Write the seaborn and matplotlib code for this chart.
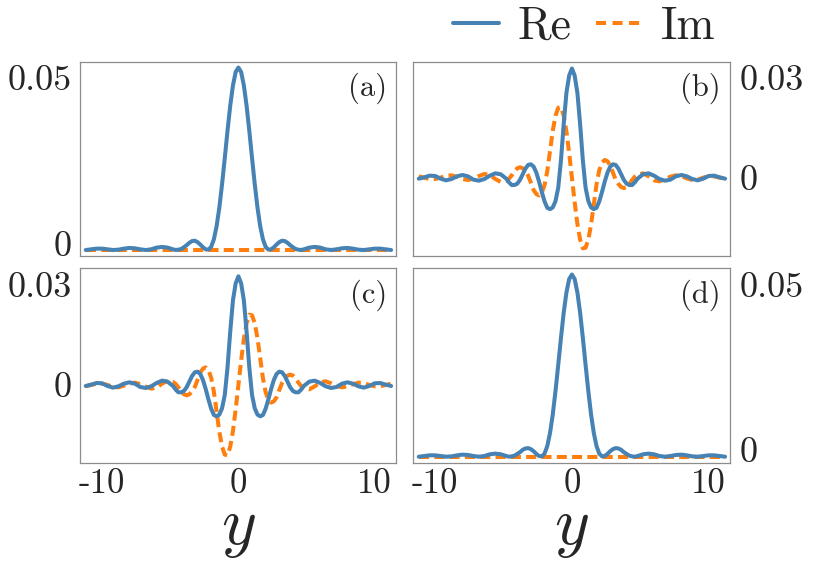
import numpy as np
import pandas as pd
import matplotlib
matplotlib.use("Agg")
import matplotlib.pyplot as plt
import seaborn as sns
from matplotlib.lines import Line2D
from matplotlib.transforms import ScaledTranslation

# sample positions along y
Y = [-11.2, -10.8, -10.4, -10.0, -9.6, -9.2, -8.8, -8.4, -8.0, -7.6, -7.2, -6.8, -6.4, -6.0, -5.6, -5.2,
     -4.8, -4.6, -4.4, -4.2, -4.0, -3.8, -3.6, -3.4, -3.2, -3.0, -2.8, -2.6, -2.4, -2.2, -2.0, -1.8,
     -1.6, -1.4, -1.2, -1.0, -0.8, -0.6, -0.4, -0.2, 0.0, 0.2, 0.4, 0.6, 0.8, 1.0, 1.2, 1.4, 1.6, 1.8,
     2.0, 2.2, 2.4, 2.6, 2.8, 3.0, 3.2, 3.4, 3.6, 3.8, 4.0, 4.2, 4.4, 4.6, 4.8,
     5.2, 5.6, 6.0, 6.4, 6.8, 7.2, 7.6, 8.0, 8.4, 8.8, 9.2, 9.6, 10.0, 10.4, 10.8, 11.2]

re_a = [0.0000, 0.0002, 0.0004, 0.0004, 0.0002, 0.0000, 0.0001, 0.0004, 0.0006, 0.0005, 0.0002, 0.0000,
        0.0002, 0.0007, 0.0009, 0.0007, 0.0002, 0.0000, 0.0001, 0.0003, 0.0008, 0.0014, 0.0021, 0.0026,
        0.0027, 0.0023, 0.0016, 0.0008, 0.0002, 0.0001, 0.0009, 0.0031, 0.0069, 0.0123, 0.0191, 0.0267,
        0.0346, 0.0419, 0.0478, 0.0517, 0.0530,
        0.0517, 0.0478, 0.0419, 0.0346, 0.0267, 0.0191, 0.0123, 0.0069, 0.0031, 0.0009, 0.0001, 0.0002,
        0.0008, 0.0016, 0.0023, 0.0027, 0.0026, 0.0021, 0.0014, 0.0008, 0.0003, 0.0001, 0.0000, 0.0002,
        0.0007, 0.0009, 0.0007, 0.0002, 0.0000, 0.0002, 0.0005, 0.0006, 0.0004, 0.0001, 0.0000, 0.0002,
        0.0004, 0.0004, 0.0002, 0.0000]
im_a = [0.0] * 81

re_b = [-0.0003, 0.0001, 0.0006, 0.0005, -0.0003, -0.0008, -0.0004, 0.0004, 0.0008, 0.0004, -0.0006,
        -0.0009, -0.0004, 0.0006, 0.0013, 0.0010, -0.0003, -0.0014, -0.0022, -0.0022, -0.0018, -0.0007,
        0.0010, 0.0027, 0.0038, 0.0040, 0.0033, 0.0015, -0.0012, -0.0043, -0.0071, -0.0090, -0.0094,
        -0.0089, -0.0070, -0.0030, 0.0052, 0.0160, 0.0254, 0.0305, 0.0326,
        0.0305, 0.0254, 0.0160, 0.0052, -0.0030, -0.0070, -0.0089, -0.0094, -0.0090, -0.0071, -0.0043,
        -0.0012, 0.0015, 0.0033, 0.0040, 0.0038, 0.0027, 0.0010, -0.0007, -0.0018, -0.0022, -0.0022,
        -0.0014, -0.0003, 0.0010, 0.0013, 0.0006, -0.0004, -0.0009, -0.0006, 0.0004, 0.0008, 0.0004,
        -0.0004, -0.0008, -0.0003, 0.0005, 0.0006, 0.0001, -0.0003]
im_b = [0.0004, 0.0000, -0.0004, -0.0004, 0.0000, 0.0006, 0.0007, 0.0002, -0.0004, -0.0007, -0.0003,
        0.0005, 0.0011, 0.0008, -0.0004, -0.0013, -0.0009, -0.0003, 0.0007, 0.0019, 0.0028, 0.0031,
        0.0028, 0.0019, 0.0006, -0.0015, -0.0037, -0.0049, -0.0053, -0.0045, -0.0022, 0.0020, 0.0080,
        0.0140, 0.0185, 0.0209, 0.0211, 0.0185, 0.0138, 0.0073, 0.0000,
        -0.0073, -0.0138, -0.0185, -0.0211, -0.0209, -0.0185, -0.0140, -0.0080, -0.0020, 0.0022, 0.0045,
        0.0053, 0.0049, 0.0037, 0.0015, -0.0006, -0.0019, -0.0028, -0.0031, -0.0028, -0.0019, -0.0007,
        0.0003, 0.0009, 0.0013, 0.0004, -0.0008, -0.0011, -0.0005, 0.0003, 0.0007, 0.0004, -0.0002,
        -0.0007, -0.0006, 0.0000, 0.0004, 0.0004, 0.0000, -0.0004]

re_c = [-0.0003, 0.0001, 0.0006, 0.0005, -0.0003, -0.0008, -0.0004, 0.0004, 0.0008, 0.0004, -0.0006,
        -0.0009, -0.0004, 0.0006, 0.0013, 0.0010, -0.0003, -0.0014, -0.0022, -0.0022, -0.0018, -0.0007,
        0.0010, 0.0027, 0.0038, 0.0040, 0.0033, 0.0015, -0.0012, -0.0043, -0.0071, -0.0090, -0.0094,
        -0.0089, -0.0070, -0.0030, 0.0052, 0.0160, 0.0254, 0.0305, 0.0326,
        0.0305, 0.0254, 0.0160, 0.0052, -0.0030, -0.0070, -0.0089, -0.0094, -0.0090, -0.0071, -0.0043,
        -0.0012, 0.0015, 0.0033, 0.0040, 0.0038, 0.0027, 0.0010, -0.0007, -0.0018, -0.0022, -0.0022,
        -0.0014, -0.0003, 0.0010, 0.0013, 0.0006, -0.0004, -0.0009, -0.0006, 0.0004, 0.0008, 0.0004,
        -0.0004, -0.0008, -0.0003, 0.0005, 0.0006, 0.0001, -0.0003]
im_c = [-0.0004, 0.0000, 0.0004, 0.0004, 0.0000, -0.0006, -0.0007, -0.0002, 0.0004, 0.0007, 0.0003,
        -0.0005, -0.0011, -0.0008, 0.0004, 0.0013, 0.0009, 0.0003, -0.0007, -0.0019, -0.0028, -0.0031,
        -0.0028, -0.0019, -0.0006, 0.0015, 0.0037, 0.0049, 0.0053, 0.0045, 0.0022, -0.0020, -0.0080,
        -0.0140, -0.0185, -0.0209, -0.0211, -0.0185, -0.0138, -0.0073, 0.0000,
        0.0073, 0.0138, 0.0185, 0.0211, 0.0209, 0.0185, 0.0140, 0.0080, 0.0020, -0.0022, -0.0045,
        -0.0053, -0.0049, -0.0037, -0.0015, 0.0006, 0.0019, 0.0028, 0.0031, 0.0028, 0.0019, 0.0007,
        -0.0003, -0.0009, -0.0013, -0.0004, 0.0008, 0.0011, 0.0005, -0.0003, -0.0007, -0.0004, 0.0002,
        0.0007, 0.0006, 0.0000, -0.0004, -0.0004, 0.0000, 0.0004]

re_d = [0.0000, 0.0002, 0.0004, 0.0004, 0.0002, 0.0000, 0.0001, 0.0004, 0.0006, 0.0005, 0.0002, 0.0000,
        0.0002, 0.0007, 0.0009, 0.0007, 0.0002, 0.0000, 0.0001, 0.0003, 0.0008, 0.0013, 0.0020, 0.0024,
        0.0025, 0.0022, 0.0016, 0.0008, 0.0002, 0.0001, 0.0009, 0.0031, 0.0069, 0.0123, 0.0191, 0.0267,
        0.0346, 0.0419, 0.0478, 0.0517, 0.0530,
        0.0517, 0.0478, 0.0419, 0.0346, 0.0267, 0.0191, 0.0123, 0.0069, 0.0031, 0.0009, 0.0001, 0.0002,
        0.0008, 0.0016, 0.0022, 0.0025, 0.0024, 0.0020, 0.0013, 0.0008, 0.0003, 0.0001, 0.0000, 0.0002,
        0.0007, 0.0009, 0.0007, 0.0002, 0.0000, 0.0002, 0.0005, 0.0006, 0.0004, 0.0001, 0.0000, 0.0002,
        0.0004, 0.0004, 0.0002, 0.0000]
im_d = [0.0] * 81

panel_letters = ["(a)", "(b)", "(c)", "(d)"]
x_ticks = [-10, 0, 10]
x_ticklabels = ["-10", "0", "10"]
y_ticks = {"a": [0, 0.05], "b": [0, 0.03], "c": [0, 0.03], "d": [0, 0.05]}
y_ticklabels = {"a": ["0", "0.05"], "b": ["0", "0.03"], "c": ["0", "0.03"], "d": ["0", "0.05"]}
legend_labels = ["Re", "Im"]

BLUE = "#4682B4"
ORANGE = "#FF7F0E"
FRAME = "#8c8c8c"

sns.set_theme(style="white")
plt.rcParams.update({
    "font.family": "serif",
    "font.serif": ["cmr10"],
    "mathtext.fontset": "cm",
    "axes.unicode_minus": False,
    "axes.formatter.use_mathtext": True,
})

fig = plt.figure(figsize=(8.3, 5.73), dpi=100)
W, H = 830.0, 573.0

def box(l, r, t, b):
    return [l / W, 1 - b / H, (r - l) / W, (b - t) / H]

layout = {
    "a": (box(80, 396, 61.5, 256), (-0.00174, 0.05475), "left", True),
    "b": (box(413, 730, 61.5, 256), (-0.0234, 0.0347), "right", True),
    "c": (box(80, 396, 268, 463.3), (-0.0235, 0.0351), "left", False),
    "d": (box(413, 730, 268, 463.3), (-0.00192, 0.0549), "right", False),
}
series = {"a": (re_a, im_a), "b": (re_b, im_b), "c": (re_c, im_c), "d": (re_d, im_d)}
zero_shift = {"a": 6, "b": 0, "c": 0, "d": 7.5}

dash = (0, (2.5, 1.3))
for key, letter in zip(["a", "b", "c", "d"], panel_letters):
    rect, ylim, side, top = layout[key]
    ax = fig.add_axes(rect)
    re_v, im_v = series[key]
    df = pd.DataFrame({"y": Y, "Re": re_v, "Im": im_v})
    sns.lineplot(data=df, x="y", y="Im", ax=ax, color=ORANGE, lw=2.9,
                 linestyle=dash, dash_capstyle="butt", sort=False)
    sns.lineplot(data=df, x="y", y="Re", ax=ax, color=BLUE, lw=2.9, sort=False)
    ax.set_xlim(-11.62, 11.56)
    ax.set_ylim(*ylim)
    ax.set_xlabel("")
    ax.set_ylabel("")
    for sp in ax.spines.values():
        sp.set_color(FRAME)
        sp.set_linewidth(0.9)
    ax.set_yticks(y_ticks[key])
    ax.set_yticklabels(y_ticklabels[key])
    if side == "right":
        ax.yaxis.tick_right()
        ax.tick_params(axis="y", pad=7)
    else:
        ax.tick_params(axis="y", pad=6)
    ax.tick_params(axis="y", length=0, labelsize=26)
    if top:
        ax.set_xticks([])
    else:
        ax.set_xticks(x_ticks)
        ax.set_xticklabels(x_ticklabels)
        ax.tick_params(axis="x", length=0, labelsize=25, pad=4)
        ax.set_xlabel("$y$", fontsize=48, labelpad=0)
    if zero_shift[key]:
        lab = ax.get_yticklabels()[0]
        lab.set_transform(lab.get_transform() +
                          ScaledTranslation(0, zero_shift[key] / 100.0, fig.dpi_scale_trans))
    ax.annotate(letter, xy=(1, 1), xycoords="axes fraction", xytext=(-9, -27),
                textcoords="offset pixels", ha="right", va="center", fontsize=22)

handles = [Line2D([], [], color=BLUE, lw=2.9),
           Line2D([], [], color=ORANGE, lw=2.9, linestyle=(0, (2.5, 1.6)), dash_capstyle="butt")]
fig.legend(handles, legend_labels, loc="center", bbox_to_anchor=(584 / W, 1 - 27 / H),
           ncol=2, frameon=False, fontsize=33, handlelength=1.0, handletextpad=0.4,
           columnspacing=0.55, borderpad=0, borderaxespad=0)

fig.savefig("out.png", dpi=100)
